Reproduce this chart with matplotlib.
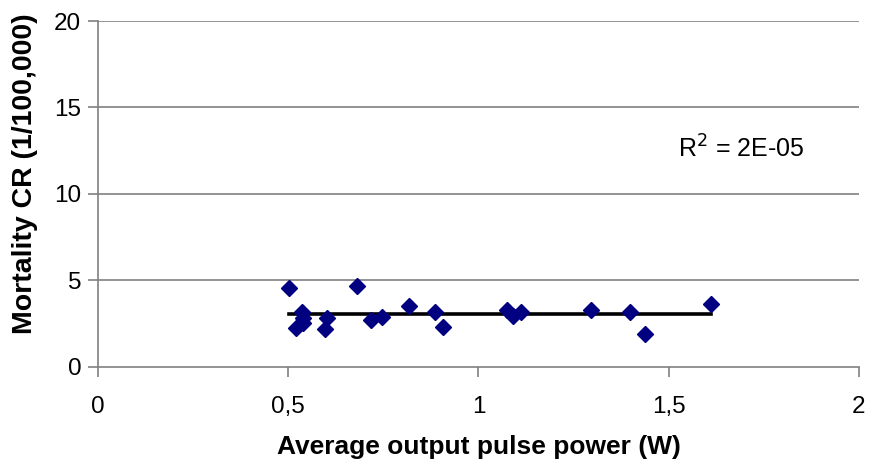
import matplotlib.pyplot as plt
import numpy as np

plt.rcParams['font.family'] = ['Liberation Sans', 'DejaVu Sans']

power = [0.503, 0.535, 0.540, 0.540, 0.520, 0.601, 0.597, 0.682, 0.718, 0.746,
         0.818, 0.886, 0.908, 1.076, 1.091, 1.113, 1.297, 1.397, 1.438, 1.610]
mortality = [4.54, 3.18, 2.80, 2.51, 2.22, 2.80, 2.18, 4.67, 2.70, 2.89,
             3.51, 3.18, 2.31, 3.30, 2.95, 3.15, 3.28, 3.15, 1.89, 3.61]
trend_y = 3.03

xticks = [0, 0.5, 1, 1.5, 2]
xlabels = ["0", "0,5", "1", "1,5", "2"]
yticks = [0, 5, 10, 15, 20]

fig = plt.figure(figsize=(8.72, 4.68), dpi=100)
ax = fig.add_axes([0.1124, 0.2165, 0.8726, 0.7385])

for y in yticks[1:]:
    ax.axhline(y, color='#808080', lw=1.2, zorder=0)

ax.plot(power, mortality, 'D', color='#000080', markersize=7.8, zorder=3)
ax.plot([min(power), max(power)], [trend_y, trend_y], color='black', lw=2.6, zorder=2)

ax.set_xlim(0, 2)
ax.set_ylim(0, 20)
ax.set_xticks(xticks)
ax.set_xticklabels(xlabels)
ax.set_yticks(yticks)

for s in ['top', 'right']:
    ax.spines[s].set_visible(False)
for s in ['left', 'bottom']:
    ax.spines[s].set_color('#808080')
    ax.spines[s].set_linewidth(1.2)

ax.tick_params(axis='both', labelsize=17.5, color='#808080', width=1.2, length=7, direction='out')
ax.tick_params(axis='x', pad=14)
ax.tick_params(axis='y', pad=5)

ax.set_xlabel('Average output pulse power (W)', fontsize=19, fontweight='bold', labelpad=12)
ax.set_ylabel('Mortality CR (1/100,000)', fontsize=20.5, fontweight='bold')
ax.yaxis.set_label_coords(-0.079, 0.557)

ax.text(1.524, 12.1, r'R$^2$ = 2E-05', fontsize=18)

fig.savefig('out.png', dpi=100)
